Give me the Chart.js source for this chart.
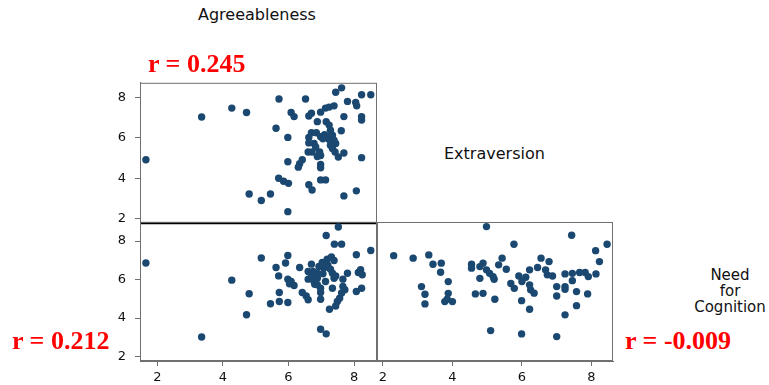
<!DOCTYPE html>
<html>
<head>
<meta charset="utf-8">
<script src="https://cdn.jsdelivr.net/npm/chart.js@4.4.0/dist/chart.umd.min.js"></script>
<style>
  body { margin: 0; background: #fff; }
  #wrap { position: relative; width: 769px; height: 385px; overflow: hidden; }
  canvas { position: absolute; }
  .lbl { position: absolute; font-family: 'DejaVu Sans', sans-serif; color: #111; line-height: 16px; white-space: nowrap; }
  .r { position: absolute; font-family: 'Liberation Serif', 'Times New Roman', serif; font-weight: bold;
       font-size: 26px; line-height: 26px; color: #ff0000; white-space: nowrap; }
</style>
</head>
<body>
<div id="wrap">
  <canvas id="c1" width="310" height="174" style="left:80px;top:66px"></canvas>
  <canvas id="c2" width="390" height="180" style="left:0px;top:205px"></canvas>
  <canvas id="c3" width="250" height="170" style="left:370px;top:215px"></canvas>

  <div class="lbl" style="left:198px;top:7px;font-size:16px">Agreeableness</div>
  <div class="lbl" style="left:444px;top:146px;font-size:16px">Extraversion</div>
  <div class="lbl" style="left:690px;top:267px;width:80px;text-align:center;font-size:15px">Need<br>for<br>Cognition</div>

  <div class="r" style="left:148px;top:51px">r = 0.245</div>
  <div class="r" style="left:12px;top:328px">r = 0.212</div>
  <div class="r" style="left:625px;top:328px">r = -0.009</div>
</div>

<script>
// tick labels used on every axis
var tickValues = [2, 4, 6, 8];

// Extraversion (y) against Agreeableness (x)
var agreeA = [1.65, 3.35, 4.27, 4.72, 4.80, 5.17, 5.45, 5.71, 6.52, 6.08, 6.17, 5.62, 5.98, 5.70, 5.85,
  6.00, 5.98, 5.98, 6.34, 6.42, 6.30, 6.62, 6.72, 6.62, 6.70, 6.88, 6.98, 7.13, 7.24, 7.39,
  7.44, 7.62, 7.80, 8.05, 8.08, 8.23, 8.51, 8.23, 8.23, 7.69, 7.15, 7.24, 7.61, 6.70, 6.85,
  6.62, 6.98, 7.28, 7.34, 7.24, 7.39, 7.44, 7.28, 7.34, 6.78, 6.83, 6.60, 6.72, 6.95, 6.98,
  6.88, 7.52, 7.69, 6.98, 6.98, 6.98, 7.13, 7.69, 8.07, 8.23, 7.42, 6.62, 7.10, 7.20, 7.05];
var extraA = [4.92, 7.03, 7.47, 7.25, 3.22, 2.90, 3.22, 7.92, 7.92, 7.25, 7.05, 6.47, 6.02, 4.00, 3.85,
  3.75, 4.82, 2.35, 4.72, 4.92, 4.55, 3.68, 3.42, 7.08, 7.22, 6.80, 7.27, 7.47, 7.52, 7.58,
  8.25, 8.47, 7.80, 7.75, 7.58, 8.13, 8.13, 7.05, 6.88, 7.05, 6.80, 6.63, 6.35, 6.25, 6.25,
  6.02, 6.05, 6.38, 6.13, 5.92, 5.88, 5.72, 5.63, 5.47, 5.72, 5.55, 5.30, 5.30, 5.30, 5.13,
  5.08, 5.05, 5.25, 4.68, 4.52, 3.92, 3.92, 3.13, 3.38, 5.02, 5.30, 5.75, 6.15, 6.05, 5.95];

// Need for Cognition (y) against Agreeableness (x)
var agreeB = [1.65, 3.35, 4.27, 4.80, 4.72, 5.17, 5.45, 5.72, 5.72, 5.98, 5.62, 5.70, 5.91, 5.98, 5.98,
  6.03, 6.17, 6.08, 6.34, 6.42, 6.54, 6.60, 6.70, 6.60, 6.75, 6.88, 6.60, 6.78, 6.88, 6.93,
  7.03, 7.18, 7.31, 7.39, 7.08, 7.28, 7.34, 7.39, 7.44, 7.13, 6.98, 6.98, 6.98, 7.34, 7.66,
  7.80, 7.66, 7.72, 7.62, 7.56, 7.49, 7.44, 7.25, 7.15, 7.52, 7.40, 7.62, 8.07, 8.51, 8.13,
  8.20, 8.25, 8.07, 8.23, 6.98, 7.15, 6.88, 6.70, 7.05, 7.20, 6.80];
var nfcB = [6.86, 3.02, 5.97, 5.26, 4.17, 7.12, 4.74, 4.86, 5.33, 4.81, 6.63, 6.19, 6.86, 7.25, 6.02,
  5.78, 5.69, 5.90, 6.63, 5.33, 5.15, 4.95, 6.80, 6.42, 6.42, 6.33, 6.02, 5.90, 6.07, 6.68,
  6.89, 7.06, 7.17, 6.99, 6.60, 6.54, 6.33, 6.07, 6.19, 5.90, 5.55, 5.33, 4.98, 5.55, 6.02,
  6.33, 5.64, 5.47, 5.30, 5.03, 4.86, 4.63, 4.46, 8.29, 8.73, 7.84, 7.84, 7.29, 7.51, 6.37,
  6.51, 6.25, 5.38, 5.55, 3.42, 3.18, 5.73, 6.15, 6.30, 6.75, 5.75];

// Need for Cognition (y) against Extraversion (x)
var extraC = [4.98, 2.31, 2.87, 3.32, 3.44, 3.68, 3.66, 3.88, 3.11, 3.21, 3.21, 3.88, 3.78, 4.00, 3.85,
  4.55, 4.55, 4.79, 4.88, 4.98, 4.79, 4.66, 4.88, 5.10, 5.07, 5.17, 5.22, 5.33, 5.43, 5.20,
  5.55, 5.77, 5.68, 5.78, 5.91, 6.00, 6.11, 5.99, 5.99, 6.22, 6.45, 6.55, 6.68, 6.78, 6.73,
  6.88, 6.22, 6.25, 6.35, 6.22, 7.00, 7.00, 7.24, 7.24, 7.24, 7.45, 7.45, 7.57, 7.57, 7.66,
  7.82, 7.91, 7.89, 8.13, 7.24, 7.00, 7.43, 8.45, 8.12, 8.23];
var nfcC = [8.76, 7.25, 7.12, 7.29, 6.80, 6.86, 6.39, 5.90, 5.64, 5.24, 4.74, 5.29, 4.86, 4.86, 4.98,
  6.80, 6.60, 6.68, 6.86, 6.51, 6.07, 5.26, 5.29, 3.35, 6.33, 6.16, 4.98, 6.77, 7.12, 6.02,
  6.54, 7.84, 5.80, 5.55, 6.19, 5.90, 6.13, 4.91, 3.18, 6.51, 6.63, 7.12, 6.51, 6.94, 6.25,
  6.19, 5.73, 5.47, 5.30, 4.46, 5.64, 5.15, 6.30, 5.64, 5.50, 6.33, 5.95, 5.38, 4.65, 6.37,
  6.37, 6.16, 5.26, 6.30, 4.17, 3.04, 8.31, 7.84, 7.51, 6.94];

var dotColor = '#1b4870';
var axisGray = '#707070';
var tickFont = { family: 'DejaVu Sans', size: 13 };

function toPoints(xs, ys) {
  var pts = [];
  for (var i = 0; i < xs.length; i++) pts.push({ x: xs[i], y: ys[i] });
  return pts;
}

function fixTicks(scale) {
  scale.ticks = tickValues.map(function (v) { return { value: v }; });
}

// draws the panel frame; black edge under the top-left panel
var framePlugin = {
  id: 'frame',
  afterDraw: function (chart, args, opts) {
    var a = chart.chartArea, ctx = chart.ctx;
    ctx.save();
    ctx.strokeStyle = axisGray;
    ctx.lineWidth = 1;
    ctx.strokeRect(a.left + 0.5, a.top + 0.5, a.right - a.left - 1, a.bottom - a.top - 1);
    if (opts.blackBottom) {
      ctx.strokeStyle = '#000';
      ctx.lineWidth = 2;
      ctx.beginPath(); ctx.moveTo(a.left, a.bottom); ctx.lineTo(a.right, a.bottom); ctx.stroke();
    }
    ctx.restore();
  }
};

function axis(show, min, max, size, horizontal) {
  return {
    type: 'linear',
    display: show,
    min: min,
    max: max,
    afterBuildTicks: fixTicks,
    afterFit: function (s) { if (horizontal) s.height = size; else s.width = size; },
    grid: { drawOnChartArea: false, drawTicks: true, tickLength: 5, color: axisGray },
    border: { display: true, color: axisGray },
    ticks: { font: tickFont, color: '#111', padding: horizontal ? 4 : 9, maxRotation: 0, autoSkip: false }
  };
}

function makeChart(id, xs, ys, xAxis, yAxis, padding, frame) {
  return new Chart(document.getElementById(id), {
    type: 'scatter',
    data: {
      datasets: [{
        data: toPoints(xs, ys),
        backgroundColor: dotColor,
        borderWidth: 0,
        pointRadius: 3.7
      }]
    },
    options: {
      responsive: false,
      animation: false,
      layout: { padding: padding, autoPadding: false },
      plugins: { legend: { display: false }, tooltip: { enabled: false }, frame: frame },
      scales: { x: xAxis, y: yAxis }
    },
    plugins: [framePlugin]
  });
}

makeChart('c1', agreeA, extraA,
  axis(false, 1.47, 8.70, 0, true),
  axis(true, 1.78, 8.72, 60, false),
  { left: 0, top: 8, right: 13, bottom: 8 },
  { blackBottom: true });

makeChart('c2', agreeB, nfcB,
  axis(true, 1.47, 8.70, 24, true),
  axis(true, 1.77, 9.0, 140, false),
  { left: 0, top: 7, right: 13, bottom: 0 },
  {});

makeChart('c3', extraC, nfcC,
  axis(true, 1.83, 8.62, 24, true),
  axis(false, 1.77, 9.0, 0, false),
  { left: 7, top: 7, right: 7, bottom: 0 },
  {});
</script>
</body>
</html>
